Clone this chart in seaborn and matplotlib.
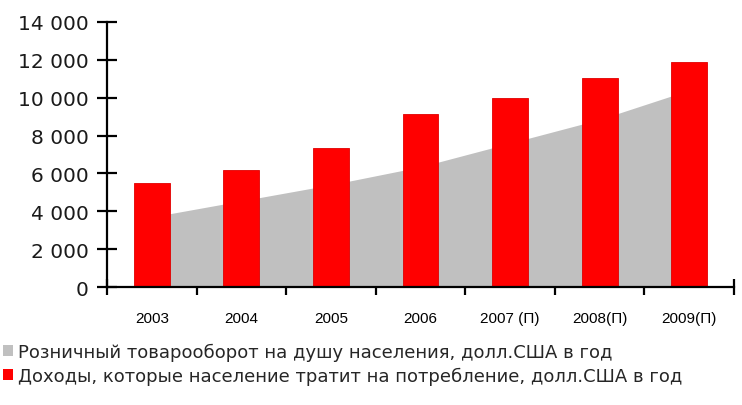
import numpy as np
import pandas as pd
import matplotlib
matplotlib.use("Agg")
import matplotlib.pyplot as plt
from matplotlib.patches import Patch
from matplotlib.ticker import FuncFormatter, FixedLocator
import seaborn as sns

# Years (П = forecast)
years = ["2003", "2004", "2005", "2006", "2007 (П)", "2008(П)", "2009(П)"]
# Household spending on consumption, USD per capita per year
consumption = [5500, 6200, 7350, 9150, 10000, 11050, 11900]
# Retail turnover per capita, USD per year
retail = [3700, 4550, 5400, 6350, 7600, 8850, 10400]

legend_labels = [
    "Розничный товарооборот на душу населения, долл.США в год",
    "Доходы, которые население тратит на потребление, долл.США в год",
]

RED = "#ff0000"
GRAY = "#c0c0c0"

sns.set_theme(style="white")
plt.rcParams["font.family"] = ["Liberation Sans", "DejaVu Sans"]

df = pd.DataFrame({"year": years, "consumption": consumption, "retail": retail})

fig = plt.figure(figsize=(7.42, 4.06), dpi=100)
ax = fig.add_axes([107 / 742, 118 / 406, (734 - 107) / 742, (288 - 23) / 406])

# Retail turnover as a shaded area behind the bars
pos = np.arange(len(years))
ax.fill_between(pos, 0, df["retail"], color=GRAY, linewidth=0, zorder=1)

# Consumption spending as bars
sns.barplot(data=df, x="year", y="consumption", color=RED, width=0.4,
            saturation=1, edgecolor="#e00000", linewidth=0.6, ax=ax, zorder=2)

ax.set_xlim(-0.5, len(years) - 0.5)
ax.set_ylim(0, 14000)
ax.set_yticks(np.arange(0, 14001, 2000))
ax.yaxis.set_major_formatter(
    FuncFormatter(lambda v, _: f"{int(v):,}".replace(",", " ")))

# Category labels centred, tick marks on the category boundaries
ax.set_xticks(pos)
ax.set_xticklabels(years, fontsize=11, color="black",
                   family=["Liberation Sans", "DejaVu Sans"])
ax.xaxis.set_minor_locator(FixedLocator(np.arange(-0.5, len(years), 1.0)))
ax.tick_params(axis="x", which="major", length=0, pad=17, colors="black")
ax.tick_params(axis="x", which="minor", direction="inout", length=12,
               width=1.6, color="black", bottom=True)
ax.tick_params(axis="y", direction="inout", length=14, width=1.6,
               color="black", labelsize=14.5, pad=6, left=True)
for lbl in ax.get_yticklabels():
    lbl.set_family(["DejaVu Sans"])
    lbl.set_color("#1a1a1a")

ax.set_xlabel("")
ax.set_ylabel("")
for side in ("top", "right"):
    ax.spines[side].set_visible(False)
for side in ("left", "bottom"):
    ax.spines[side].set_color("black")
    ax.spines[side].set_linewidth(1.6)
ax.set_facecolor("white")

handles = [Patch(facecolor=GRAY, edgecolor="none"),
           Patch(facecolor=RED, edgecolor="none")]
fig.legend(handles, legend_labels, loc="upper left",
           bbox_to_anchor=(3 / 742, 1 - 344 / 406), frameon=False,
           handlelength=0.55, handleheight=0.55, borderpad=0,
           handletextpad=0.3, labelspacing=0.3, borderaxespad=0,
           prop={"family": ["DejaVu Sans"], "size": 13})

fig.savefig("out.png", dpi=100, facecolor="white")
